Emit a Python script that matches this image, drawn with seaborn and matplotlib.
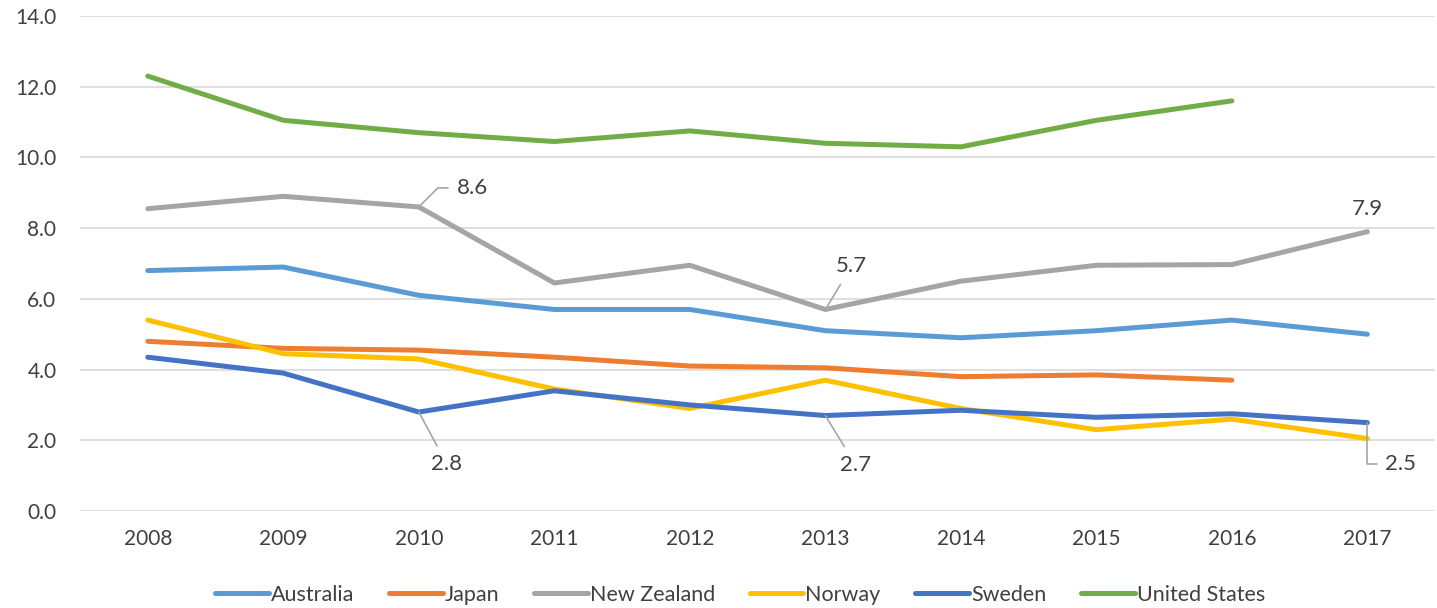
import pandas as pd
import numpy as np
import matplotlib
matplotlib.use("Agg")
import matplotlib.pyplot as plt
import seaborn as sns

years = [2008, 2009, 2010, 2011, 2012, 2013, 2014, 2015, 2016, 2017]
australia = [6.8, 6.9, 6.1, 5.7, 5.7, 5.1, 4.9, 5.1, 5.4, 5.0]
japan = [4.8, 4.6, 4.55, 4.35, 4.1, 4.05, 3.8, 3.85, 3.7, np.nan]
new_zealand = [8.55, 8.9, 8.6, 6.45, 6.95, 5.7, 6.5, 6.95, 6.97, 7.9]
norway = [5.4, 4.45, 4.3, 3.45, 2.9, 3.7, 2.9, 2.3, 2.6, 2.05]
sweden = [4.35, 3.9, 2.8, 3.4, 3.0, 2.7, 2.85, 2.65, 2.75, 2.5]
united_states = [12.3, 11.05, 10.7, 10.45, 10.75, 10.4, 10.3, 11.05, 11.6, np.nan]

countries = ["Australia", "Japan", "New Zealand", "Norway", "Sweden", "United States"]
colors = ["#5B9BD5", "#ED7D31", "#A5A5A5", "#FFC000", "#4472C4", "#70AD47"]

# callouts: (year, value, offset in pixels, alignment, connection)
labels = [
    (2010, 8.6, (38, 19), "left", "angle,angleA=0,angleB=45"),
    (2013, 5.7, (26, 43), "center", "arc3"),
    (2017, 7.9, (0, 23), "center", None),
    (2010, 2.8, (28, -52), "center", "arc3"),
    (2013, 2.7, (30, -49), "center", "arc3"),
    (2017, 2.5, (18, -41), "left", "angle,angleA=0,angleB=90"),
]

series = [australia, japan, new_zealand, norway, sweden, united_states]
df = pd.DataFrame({
    "year": years * len(countries),
    "country": [c for c in countries for _ in years],
    "value": [v for s in series for v in s],
}).dropna()

sns.set_style("white")
plt.rcParams["font.family"] = ["Lato", "DejaVu Sans"]
text_color = "#404040"

fig = plt.figure(figsize=(14.37, 6.08), dpi=100)
ax = fig.add_axes([0.0557, 0.1595, 0.943, 0.8142])

sns.lineplot(data=df, x="year", y="value", hue="country", hue_order=countries,
             palette=colors, linewidth=3.6, ax=ax, legend=True,
             solid_capstyle="round")

ax.set_xlim(2007.5, 2017.5)
ax.set_ylim(0, 14)
ax.set_yticks(np.arange(0, 14.1, 2))
ax.set_yticklabels([f"{v:.1f}" for v in np.arange(0, 14.1, 2)])
ax.set_xticks(years)
ax.set_xticklabels([str(y) for y in years])
ax.tick_params(axis="both", length=0, labelsize=15, colors=text_color)
ax.tick_params(axis="x", pad=13)
ax.tick_params(axis="y", pad=17)
ax.grid(axis="y", color="#D9D9D9", linewidth=1.2)
ax.set_axisbelow(True)
for s in ax.spines.values():
    s.set_visible(False)
ax.set_xlabel("")
ax.set_ylabel("")

for yr, val, off, ha, conn in labels:
    arrow = None
    if conn is not None:
        arrow = dict(arrowstyle="-", color="#A5A5A5", lw=1.2,
                     connectionstyle=conn, shrinkA=4, shrinkB=0)
    ax.annotate(f"{val:.1f}", xy=(yr, val), xytext=off, textcoords="offset pixels",
                ha=ha, va="center", fontsize=16, color=text_color, arrowprops=arrow)

handles, lbls = ax.get_legend_handles_labels()
ax.legend_.remove()
leg = fig.legend(handles, lbls, loc="center", bbox_to_anchor=(0.515, 0.022),
                 ncol=6, frameon=False, fontsize=15.5, handlelength=2.5,
                 handletextpad=0.1, columnspacing=1.6)
for t in leg.get_texts():
    t.set_color(text_color)

fig.savefig("out.png", dpi=100)
